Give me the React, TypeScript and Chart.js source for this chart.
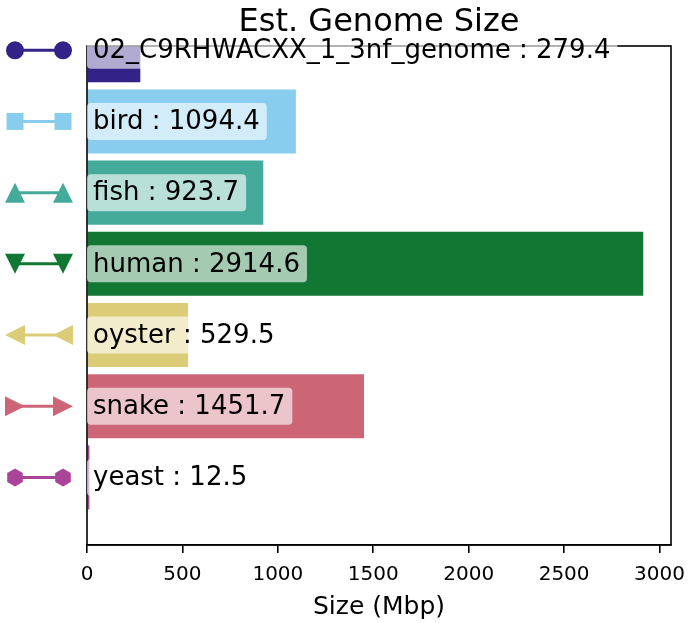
import React, { useEffect, useRef } from "react";
import { Chart, registerables } from "chart.js";

Chart.register(...registerables);

const categories = ["02_C9RHWACXX_1_3nf_genome", "bird", "fish", "human", "oyster", "snake", "yeast"];
const sizes = [279.4, 1094.4, 923.7, 2914.6, 529.5, 1451.7, 12.5];
const colors = ["#332288", "#88CCEE", "#44AA99", "#117733", "#DDCC77", "#CC6677", "#AA4499"];
const markers = ["circle", "square", "triangleUp", "triangleDown", "triangleLeft", "triangleRight", "hexagon"];
const xTicks = [0, 500, 1000, 1500, 2000, 2500, 3000];
const chartTitle = "Est. Genome Size";
const xTitle = "Size (Mbp)";

const FONT = "'DejaVu Sans', sans-serif";

function drawMarker(ctx: CanvasRenderingContext2D, kind: string, cx: number, cy: number) {
  ctx.beginPath();
  const r = 10;
  switch (kind) {
    case "circle":
      ctx.arc(cx, cy, 9, 0, Math.PI * 2);
      break;
    case "square":
      ctx.rect(cx - 8.5, cy - 8.5, 17, 17);
      break;
    case "triangleUp":
      ctx.moveTo(cx, cy - r);
      ctx.lineTo(cx - r, cy + r);
      ctx.lineTo(cx + r, cy + r);
      break;
    case "triangleDown":
      ctx.moveTo(cx, cy + r);
      ctx.lineTo(cx - r, cy - r);
      ctx.lineTo(cx + r, cy - r);
      break;
    case "triangleLeft":
      ctx.moveTo(cx - r, cy);
      ctx.lineTo(cx + r, cy - r);
      ctx.lineTo(cx + r, cy + r);
      break;
    case "triangleRight":
      ctx.moveTo(cx + r, cy);
      ctx.lineTo(cx - r, cy - r);
      ctx.lineTo(cx - r, cy + r);
      break;
    case "hexagon":
      for (let k = 0; k < 6; k++) {
        const a = -Math.PI / 2 + (k * Math.PI) / 3;
        const px = cx + 9 * Math.cos(a);
        const py = cy + 9 * Math.sin(a);
        if (k === 0) ctx.moveTo(px, py);
        else ctx.lineTo(px, py);
      }
      break;
  }
  ctx.closePath();
  ctx.fill();
}

function roundRect(ctx: CanvasRenderingContext2D, x: number, y: number, w: number, h: number, r: number) {
  ctx.beginPath();
  ctx.moveTo(x + r, y);
  ctx.lineTo(x + w - r, y);
  ctx.quadraticCurveTo(x + w, y, x + w, y + r);
  ctx.lineTo(x + w, y + h - r);
  ctx.quadraticCurveTo(x + w, y + h, x + w - r, y + h);
  ctx.lineTo(x + r, y + h);
  ctx.quadraticCurveTo(x, y + h, x, y + h - r);
  ctx.lineTo(x, y + r);
  ctx.quadraticCurveTo(x, y, x + r, y);
  ctx.closePath();
}

const overlayPlugin = {
  id: "overlay",
  afterDatasetsDraw(chart: any) {
    const ctx: CanvasRenderingContext2D = chart.ctx;
    const area = chart.chartArea;
    const ys = chart.scales.y;
    ctx.save();

    // spines
    ctx.strokeStyle = "#000";
    ctx.lineWidth = 1.6;
    ctx.strokeRect(area.left, area.top, area.right - area.left, area.bottom - area.top);

    // legend-like markers on the left
    categories.forEach((_, i) => {
      const y = ys.getPixelForValue(i);
      const x0 = area.left - 72;
      const x1 = area.left - 24;
      ctx.strokeStyle = colors[i];
      ctx.fillStyle = colors[i];
      ctx.lineWidth = 3;
      ctx.beginPath();
      ctx.moveTo(x0, y);
      ctx.lineTo(x1, y);
      ctx.stroke();
      drawMarker(ctx, markers[i], x0, y);
      drawMarker(ctx, markers[i], x1, y);
    });

    // value labels
    ctx.font = `26px ${FONT}`;
    ctx.textBaseline = "middle";
    ctx.textAlign = "left";
    categories.forEach((c, i) => {
      const y = ys.getPixelForValue(i);
      const text = `${c} : ${sizes[i].toFixed(1)}`;
      const tx = area.left + 6;
      const w = ctx.measureText(text).width;
      ctx.fillStyle = "rgba(255,255,255,0.62)";
      roundRect(ctx, tx - 6, y - 18.5, w + 13, 37, 4);
      ctx.fill();
      ctx.fillStyle = "#000";
      ctx.fillText(text, tx, y + 1);
    });

    // title
    ctx.font = `32px ${FONT}`;
    ctx.textAlign = "center";
    ctx.textBaseline = "middle";
    ctx.fillStyle = "#000";
    ctx.fillText(chartTitle, (area.left + area.right) / 2, 23);

    ctx.restore();
  },
};

export default function App() {
  const ref = useRef<HTMLCanvasElement | null>(null);

  useEffect(() => {
    if (!ref.current) return;
    Chart.defaults.font.family = FONT;
    const chart = new Chart(ref.current, {
      type: "bar",
      data: {
        datasets: [
          {
            data: sizes.map((v, i) => ({ x: v, y: i })) as any,
            backgroundColor: colors,
            borderWidth: 0,
            barPercentage: 0.9,
            categoryPercentage: 1,
            clip: 0 as any,
          },
        ],
      },
      options: {
        indexAxis: "y",
        animation: false,
        responsive: false,
        devicePixelRatio: 1,
        layout: { padding: { left: 87, right: 19, top: 46, bottom: 0 } },
        plugins: {
          legend: { display: false },
          tooltip: { enabled: false },
          title: { display: false },
        },
        scales: {
          x: {
            type: "linear",
            position: "bottom",
            min: 0,
            max: 3060,
            afterFit: (s: any) => {
              s.height = 78;
              s.paddingLeft = 0;
              s.paddingRight = 0;
            },
            afterBuildTicks: (s: any) => {
              s.ticks = xTicks.map((v) => ({ value: v }));
            },
            ticks: {
              color: "#000",
              font: { family: FONT, size: 20 },
              padding: 10,
              maxRotation: 0,
              autoSkip: false,
              callback: (v: any) => String(v),
            },
            grid: { drawOnChartArea: false, tickLength: 8, color: "#000", lineWidth: 1.6 },
            border: { display: true, color: "#000", width: 1.6 },
            title: {
              display: true,
              text: xTitle,
              color: "#000",
              font: { family: FONT, size: 25 },
              padding: { top: 0, bottom: 1 },
            },
          },
          y: {
            type: "linear",
            min: -0.06,
            max: 6.95,
            reverse: true,
            offset: false,
            display: false,
            afterBuildTicks: (s: any) => {
              s.ticks = categories.map((_, i) => ({ value: i }));
            },
          },
        },
      } as any,
      plugins: [overlayPlugin],
    });
    return () => chart.destroy();
  }, []);

  return (
    <div style={{ position: "absolute", left: 0, top: 0, width: 690, height: 623 }}>
      <canvas ref={ref} width={690} height={623} style={{ width: 690, height: 623, display: "block" }} />
    </div>
  );
}
